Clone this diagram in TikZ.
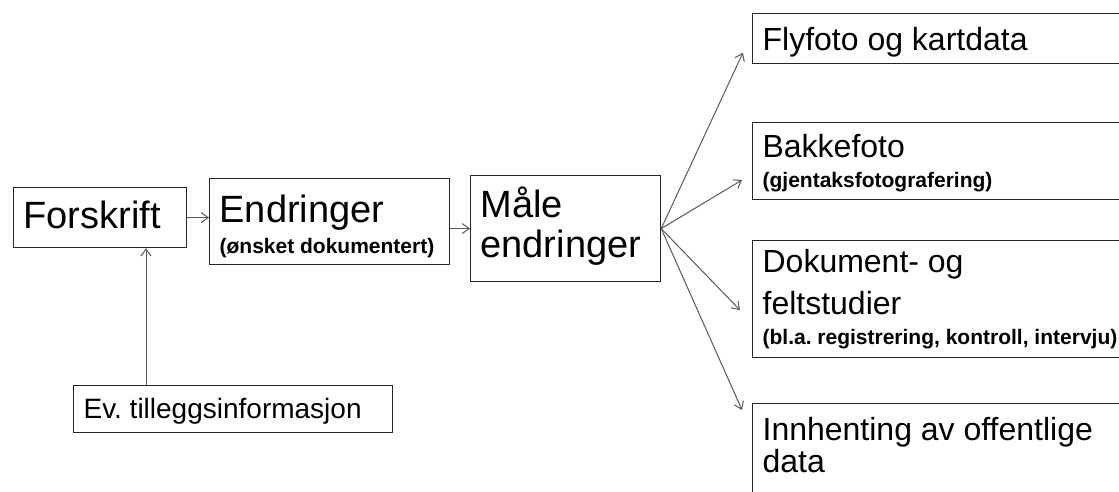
\documentclass[tikz,border=0pt]{standalone}
\usepackage{fontspec}
\setmainfont{Liberation Sans}
\usetikzlibrary{positioning, arrows.meta, calc}

\frenchspacing
\newcommand{\smalltxt}{\fontsize{21}{24}\selectfont\bfseries}

\begin{document}
\begin{tikzpicture}[x=1pt, y=-1pt,
			box/.style={draw=black!85, line width=1.2pt, rectangle, inner xsep=10pt, inner ysep=0pt, anchor=north west, align=flush left},
			bigtext/.style={font=\fontsize{38}{40}\selectfont},
			righttext/.style={font=\fontsize{32}{42}\selectfont},
			arrow/.style={-{Straight Barb[length=7pt, width=10pt]}, draw=black!65, line width=1pt}
			]
			\path[use as bounding box, clip] (0,0) rectangle (1119,492);
			% left part
			\node[box, bigtext, text width=153pt, text height=41pt, text depth=19pt] (forskrift) at (13,187) {Forskrift};
			\node[box, bigtext, text width=220pt, text height=44pt, text depth=42pt] (endringer) at (209,178) {Endringer\\[-9pt]{\smalltxt (ønsket dokumentert)}};
			\node[box, bigtext, text width=170pt, text height=42pt, text depth=64pt] (maale) at (470,175) {Måle\\endringer};
			\node[box, font=\fontsize{28}{32}\selectfont, text width=299pt, text height=33pt, text depth=14pt] (ev) at (73,385) {Ev. tilleggsinformasjon};
			% right part
			\node[box, righttext, text width=358pt, text height=37pt, text depth=13pt] (flyfoto) at (752,13) {Flyfoto og kartdata};
			\node[box, righttext, text width=358pt, text height=35pt, text depth=42pt] (bakke) at (752,122) {Bakkefoto\\[-12pt]{\smalltxt (gjentaksfotografering)}};
			\node[box, righttext, text width=358pt, text height=32pt, text depth=85pt] (dokument) at (752,240) {Dokument- og\\feltstudier\\[-12pt]{\smalltxt (bl.a. registrering, kontroll, intervju)}};
			\node[box, righttext, text width=358pt, text height=37pt, text depth=80pt] (innhenting) at (752,403) {Innhenting av offentlige\\[-10pt]data};
			% arrows
			\draw[arrow] (forskrift.east) -- (endringer.west |- forskrift.east);
			\draw[arrow] (endringer.east |- maale.west) -- (maale.west);
			\draw[arrow] ([xshift=73pt]ev.north west) -- ([xshift=73pt]ev.north west |- forskrift.south);
			\draw[arrow] (maale.east) -- ([xshift=-9pt, yshift=-14pt]flyfoto.west);
			\draw[arrow] (maale.east) -- ([xshift=-10pt, yshift=-19pt]bakke.west);
			\draw[arrow] (maale.east) -- ([xshift=-12pt, yshift=-11pt]dokument.west);
			\draw[arrow] (maale.east) -- ([xshift=-10pt, yshift=-7pt]innhenting.north west);
		\end{tikzpicture}
\end{document}
